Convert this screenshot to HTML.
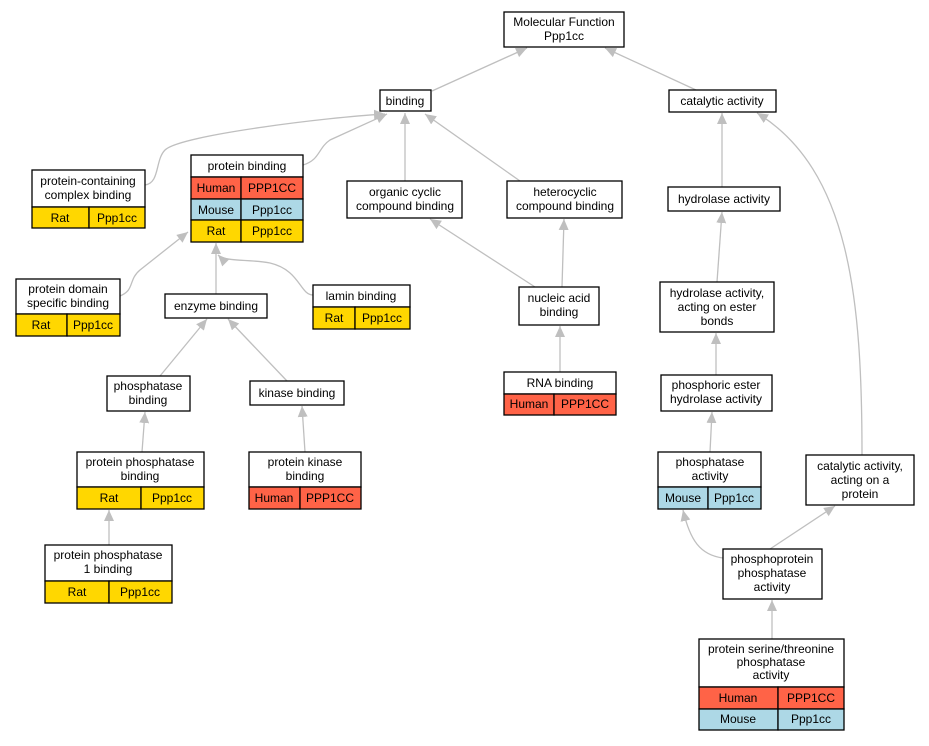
<!DOCTYPE html>
<html><head><meta charset="utf-8"><style>
html,body{margin:0;padding:0;background:#fff;}
svg text{font-family:"Liberation Sans",Arial,sans-serif;font-size:12px;fill:#000;stroke:none;text-anchor:middle;}
</style></head><body>
<svg width="929" height="741" viewBox="0 0 929 741" xmlns="http://www.w3.org/2000/svg">
<defs>
<marker id="a" markerUnits="userSpaceOnUse" markerWidth="12" markerHeight="12" refX="11" refY="5" orient="auto">
<path d="M0,0 L11,5 L0,10 Z" fill="#bfbfbf"/>
</marker>
</defs>
<g fill="none" stroke="#bfbfbf" stroke-width="1.3" marker-end="url(#a)">
<path d="M432,91 L527,48"/>
<path d="M696,90 L605,48"/>
<path d="M145,185 C160,183 155,160 165,150 C180,135 330,117 385,114"/>
<path d="M303,165 C320,160 318,148 330,140 L387,114"/>
<path d="M405,181 L405,113"/>
<path d="M520,181 L425,114"/>
<path d="M722,187 L722,113"/>
<path d="M862,455 C862,300 850,170 757,113"/>
<path d="M120,296 C135,290 128,280 140,270 L188,232"/>
<path d="M216,294 L216,243"/>
<path d="M313,295 C300,295 300,270 270,263 C250,259 225,262 218,255"/>
<path d="M535,287 L430,219"/>
<path d="M562,287 L564,219"/>
<path d="M717,282 L722,212"/>
<path d="M160,376 L207,319"/>
<path d="M287,381 L228,319"/>
<path d="M560,372 L560,326"/>
<path d="M716,375 L716,333"/>
<path d="M142,452 L145,412"/>
<path d="M305,452 L302,406"/>
<path d="M710,452 L712,412"/>
<path d="M109,545 L109,510"/>
<path d="M723,558 C700,555 690,540 683,510"/>
<path d="M770,549 L835,506"/>
<path d="M772,639 L772,600"/>
</g>
<g stroke="#000" stroke-width="1.3">
<rect x="504" y="12" width="120" height="35" fill="#fff"/>
<text x="564" y="26">Molecular Function</text><text x="564" y="40">Ppp1cc</text>
<rect x="380" y="90" width="51" height="21" fill="#fff"/>
<text x="405" y="105">binding</text>
<rect x="669" y="90" width="107" height="22" fill="#fff"/>
<text x="722" y="105">catalytic activity</text>
<rect x="32" y="170" width="113" height="37" fill="#fff"/>
<text x="88" y="185">protein-containing</text><text x="88" y="199">complex binding</text>
<rect x="32" y="207" width="57" height="21" fill="#ffd700"/><rect x="89" y="207" width="56" height="21" fill="#ffd700"/>
<text x="60" y="222">Rat</text><text x="117" y="222">Ppp1cc</text>
<rect x="191" y="155" width="112" height="22" fill="#fff"/>
<text x="247" y="170">protein binding</text>
<rect x="191" y="177" width="50" height="22" fill="#ff6347"/><rect x="241" y="177" width="62" height="22" fill="#ff6347"/>
<text x="216" y="192">Human</text><text x="272" y="192">PPP1CC</text>
<rect x="191" y="199" width="50" height="21" fill="#add8e6"/><rect x="241" y="199" width="62" height="21" fill="#add8e6"/>
<text x="216" y="214">Mouse</text><text x="272" y="214">Ppp1cc</text>
<rect x="191" y="220" width="50" height="22" fill="#ffd700"/><rect x="241" y="220" width="62" height="22" fill="#ffd700"/>
<text x="216" y="235">Rat</text><text x="272" y="235">Ppp1cc</text>
<rect x="347" y="181" width="115" height="37" fill="#fff"/>
<text x="405" y="196">organic cyclic</text><text x="405" y="210">compound binding</text>
<rect x="507" y="181" width="115" height="37" fill="#fff"/>
<text x="565" y="196">heterocyclic</text><text x="565" y="210">compound binding</text>
<rect x="668" y="187" width="112" height="24" fill="#fff"/>
<text x="724" y="203">hydrolase activity</text>
<rect x="16" y="279" width="104" height="35" fill="#fff"/>
<text x="68" y="293">protein domain</text><text x="68" y="307">specific binding</text>
<rect x="16" y="314" width="51" height="22" fill="#ffd700"/><rect x="67" y="314" width="53" height="22" fill="#ffd700"/>
<text x="41" y="329">Rat</text><text x="93" y="329">Ppp1cc</text>
<rect x="165" y="294" width="102" height="24" fill="#fff"/>
<text x="216" y="310">enzyme binding</text>
<rect x="313" y="285" width="97" height="22" fill="#fff"/>
<text x="361" y="300">lamin binding</text>
<rect x="313" y="307" width="42" height="22" fill="#ffd700"/><rect x="355" y="307" width="55" height="22" fill="#ffd700"/>
<text x="334" y="322">Rat</text><text x="382" y="322">Ppp1cc</text>
<rect x="519" y="287" width="80" height="38" fill="#fff"/>
<text x="559" y="302">nucleic acid</text><text x="559" y="316">binding</text>
<rect x="660" y="282" width="114" height="50" fill="#fff"/>
<text x="717" y="297">hydrolase activity,</text><text x="717" y="311">acting on ester</text><text x="717" y="325">bonds</text>
<rect x="107" y="376" width="83" height="35" fill="#fff"/>
<text x="148" y="390">phosphatase</text><text x="148" y="404">binding</text>
<rect x="250" y="381" width="94" height="24" fill="#fff"/>
<text x="297" y="397">kinase binding</text>
<rect x="504" y="372" width="112" height="22" fill="#fff"/>
<text x="560" y="387">RNA binding</text>
<rect x="504" y="394" width="50" height="21" fill="#ff6347"/><rect x="554" y="394" width="62" height="21" fill="#ff6347"/>
<text x="529" y="408">Human</text><text x="585" y="408">PPP1CC</text>
<rect x="661" y="375" width="111" height="36" fill="#fff"/>
<text x="716" y="389">phosphoric ester</text><text x="716" y="403">hydrolase activity</text>
<rect x="77" y="452" width="127" height="35" fill="#fff"/>
<text x="140" y="466">protein phosphatase</text><text x="140" y="480">binding</text>
<rect x="77" y="487" width="64" height="22" fill="#ffd700"/><rect x="141" y="487" width="63" height="22" fill="#ffd700"/>
<text x="109" y="502">Rat</text><text x="172" y="502">Ppp1cc</text>
<rect x="249" y="452" width="112" height="35" fill="#fff"/>
<text x="305" y="466">protein kinase</text><text x="305" y="480">binding</text>
<rect x="249" y="487" width="51" height="22" fill="#ff6347"/><rect x="300" y="487" width="61" height="22" fill="#ff6347"/>
<text x="274" y="502">Human</text><text x="330" y="502">PPP1CC</text>
<rect x="658" y="452" width="103" height="35" fill="#fff"/>
<text x="710" y="466">phosphatase</text><text x="710" y="480">activity</text>
<rect x="658" y="487" width="50" height="22" fill="#add8e6"/><rect x="708" y="487" width="53" height="22" fill="#add8e6"/>
<text x="683" y="502">Mouse</text><text x="734" y="502">Ppp1cc</text>
<rect x="806" y="455" width="108" height="50" fill="#fff"/>
<text x="860" y="470">catalytic activity,</text><text x="860" y="484">acting on a</text><text x="860" y="498">protein</text>
<rect x="45" y="545" width="127" height="36" fill="#fff"/>
<text x="108" y="559">protein phosphatase</text><text x="108" y="573">1 binding</text>
<rect x="45" y="581" width="64" height="22" fill="#ffd700"/><rect x="109" y="581" width="63" height="22" fill="#ffd700"/>
<text x="77" y="596">Rat</text><text x="140" y="596">Ppp1cc</text>
<rect x="723" y="549" width="99" height="50" fill="#fff"/>
<text x="772" y="563">phosphoprotein</text><text x="772" y="577">phosphatase</text><text x="772" y="591">activity</text>
<rect x="699" y="639" width="145" height="48" fill="#fff"/>
<text x="771" y="653">protein serine/threonine</text><text x="771" y="666">phosphatase</text><text x="771" y="679">activity</text>
<rect x="699" y="687" width="79" height="22" fill="#ff6347"/><rect x="778" y="687" width="66" height="22" fill="#ff6347"/>
<text x="738" y="702">Human</text><text x="811" y="702">PPP1CC</text>
<rect x="699" y="709" width="79" height="21" fill="#add8e6"/><rect x="778" y="709" width="66" height="21" fill="#add8e6"/>
<text x="738" y="723">Mouse</text><text x="811" y="723">Ppp1cc</text>
</g>
</svg>
</body></html>
